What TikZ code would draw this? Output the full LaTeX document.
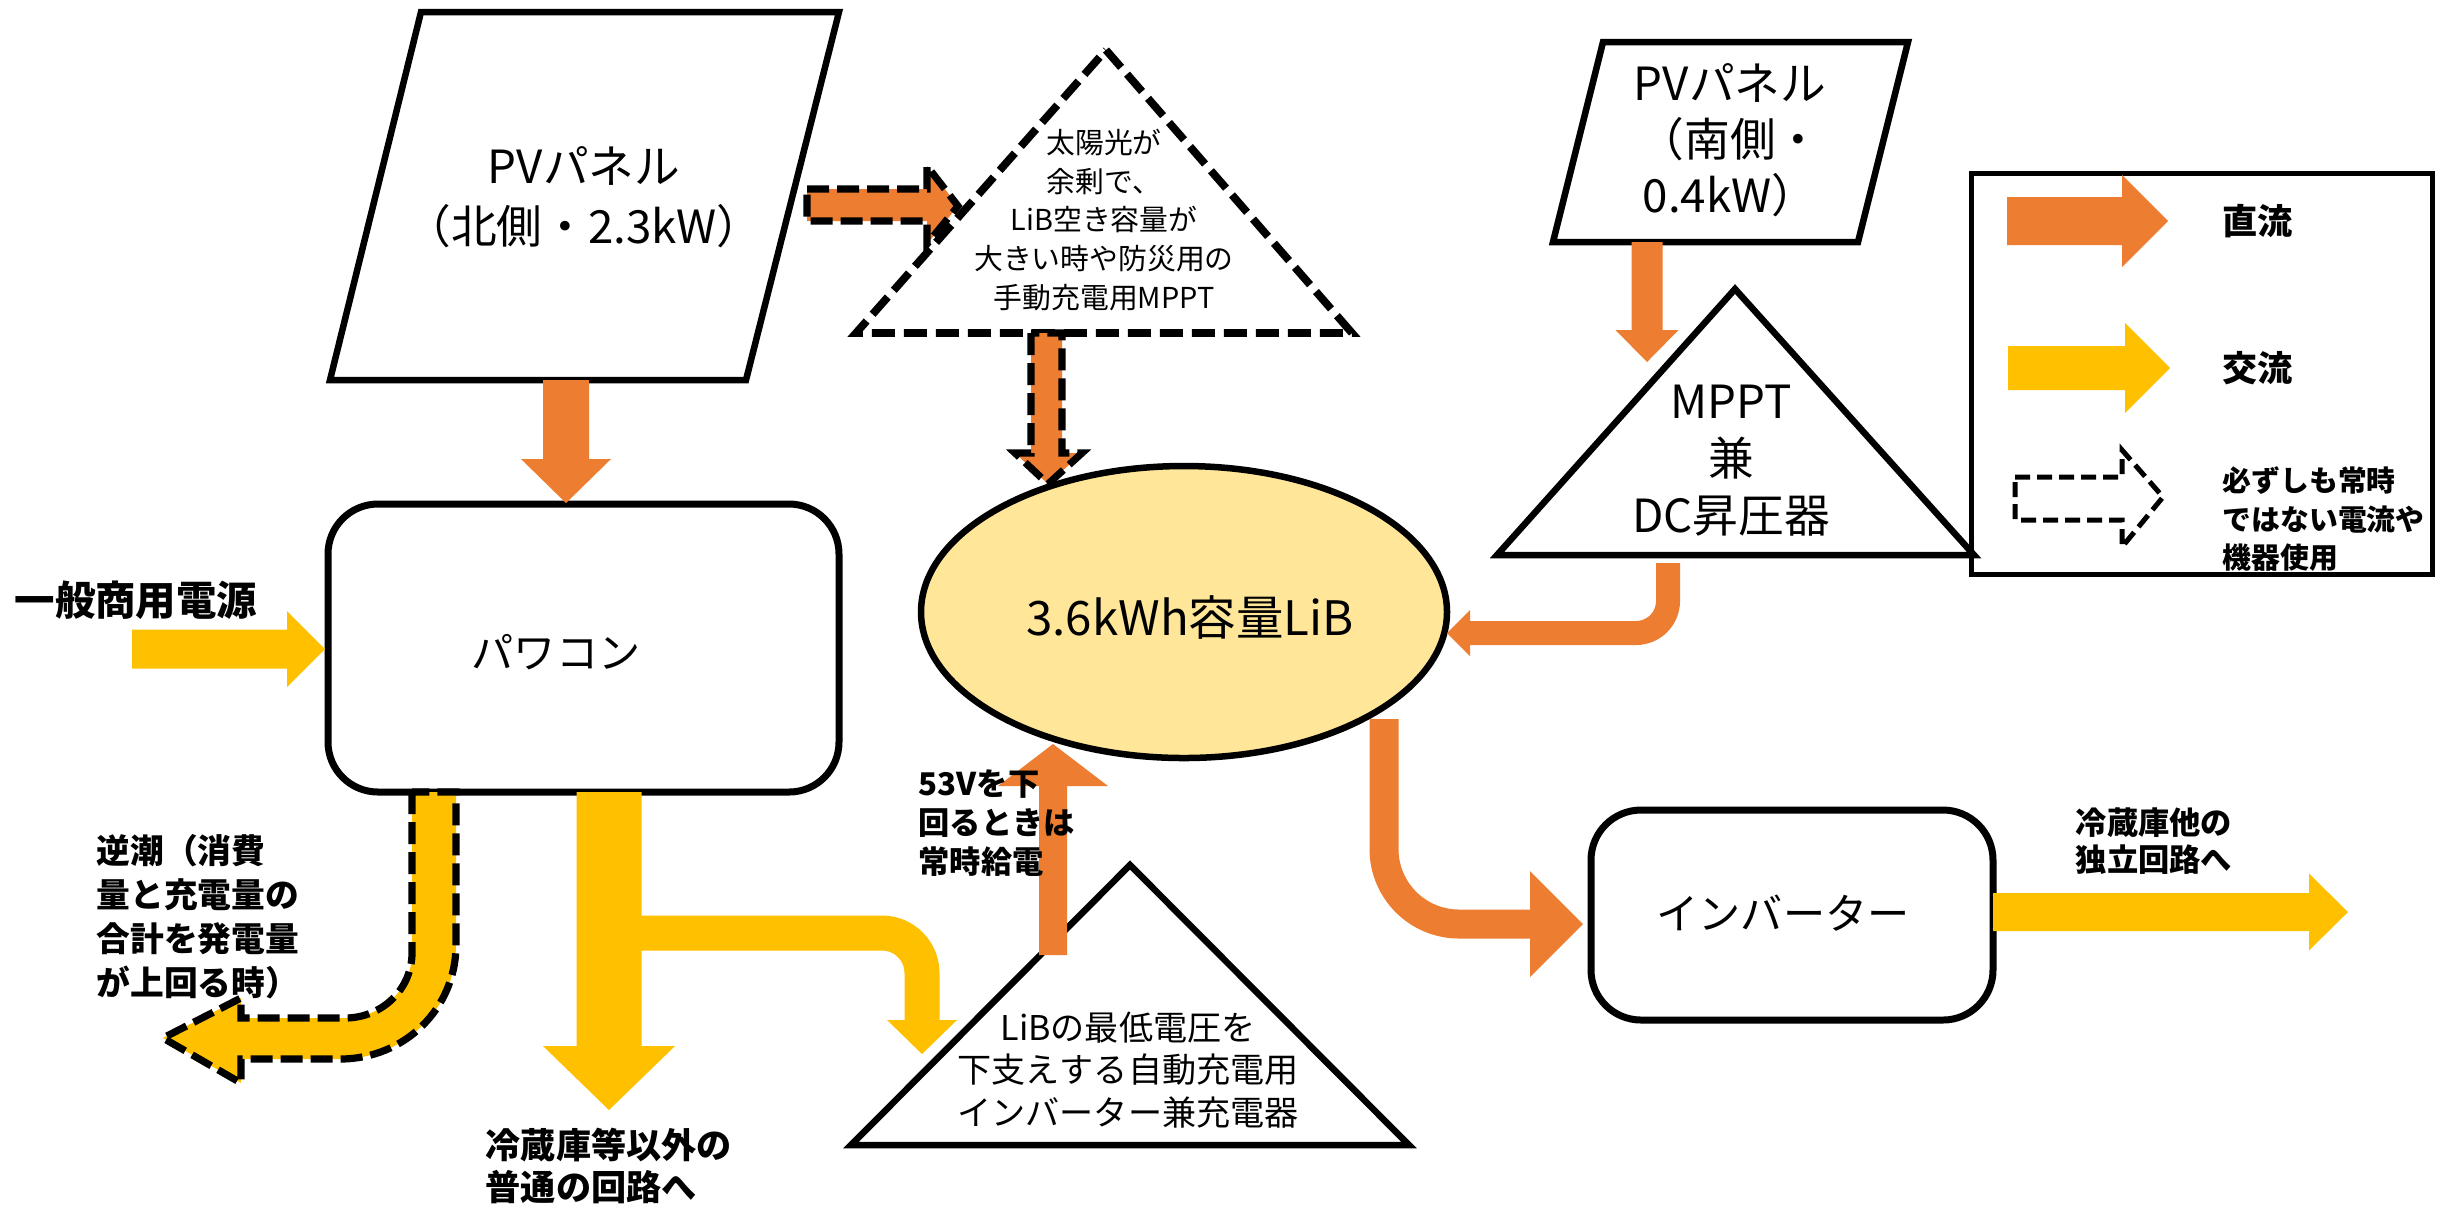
\documentclass[tikz,border=0pt]{standalone}
\usepackage{fontspec}
\setmainfont{Noto Sans CJK JP}
\usetikzlibrary{calc,shapes.geometric}
\definecolor{orC}{HTML}{ED7D31}
\definecolor{yeC}{HTML}{FFC000}
\definecolor{liC}{HTML}{FFE699}
\newcommand\fs[2]{\fontsize{#1}{#2}\selectfont}
% head of a block arrow: colour, base centre, tip, half width
\newcommand\bhead[4]{\fill[#1] (#3) -- ($(#2)!#4!90:(#3)$) -- ($(#2)!#4!-90:(#3)$) -- cycle;}
% straight block arrow: colour, from, to, shaft width, head half width, head length
\newcommand\barrow[6]{%
  \path ($(#3)!#6!(#2)$) coordinate (ba-base);
  \draw[draw=#1, line width=#4] (#2) -- ($(ba-base)!0.3!(#3)$);
  \bhead{#1}{ba-base}{#3}{#5}}
\tikzset{
  shp/.style={draw=black, line width=0.65mm, line join=miter},
  dshp/.style={draw=black, line width=0.78mm, dash pattern=on 2.3mm off 0.9mm},
  darrow/.style={draw=black, line width=0.72mm, dash pattern=on 2.2mm off 0.8mm},
  txt/.style={inner sep=0pt, align=center, text=black},
  lbl/.style={inner sep=0pt, align=left, anchor=west, text=black},
}
\begin{document}
\begin{tikzpicture}[x=0.1mm, y=-0.1mm]
\useasboundingbox (0,0) rectangle (2440,1207);
\fill[white] (0,0) rectangle (2440,1207);

% ---------- shapes ----------
% PV panel north
\draw[shp] (421,12) -- (839,12) -- (746,380) -- (330,380) -- cycle;
\node[txt, font=\fs{13pt}{17pt}] (pvn) at (584,197) {PVパネル\\（北側・2.3kW）};
% power conditioner
\node[draw, line width=0.7mm, rounded corners=5mm, minimum width=51.1mm, minimum height=28.8mm, inner sep=0pt] (pc) at (583.5,648) {};
\node[txt, font=\fs{12pt}{14pt}] (pct) at (556,652) {パワコン};
% dashed triangle (manual MPPT)
\draw[dshp] (1106,50) -- (1352,333) -- (856,333) -- cycle;
\node[txt, font=\fs{8.2pt}{11pt}] (mmppt) at (1104,220) {太陽光が\\余剰で、\\LiB空き容量が\\大きい時や防災用の\\手動充電用MPPT};
% LiB ellipse
\node[shp, fill=liC, ellipse, minimum width=52.6mm, minimum height=29.2mm, inner sep=0pt] (lib) at (1184,612) {};
\node[txt, font=\fs{13.5pt}{16pt}] (libt) at (1190,617) {3.6kWh容量LiB};
% PV panel south
\draw[shp] (1603,42) -- (1908,42) -- (1858,242) -- (1553,242) -- cycle;
\node[txt, font=\fs{13pt}{16pt}] (pvs) at (1730,140) {PVパネル\\（南側・\\0.4kW）};
% MPPT / DC booster
\draw[shp] (1735,289) -- (1974,555) -- (1497,555) -- cycle;
\node[txt, font=\fs{13pt}{16.2pt}] (mppt) at (1731,461) {MPPT\\兼\\DC昇圧器};
% bottom triangle (charger)
\draw[shp] (1130,865) -- (1409,1145) -- (851,1145) -- cycle;
\node[txt, font=\fs{9.7pt}{12.2pt}] (chg) at (1128,1070) {LiBの最低電圧を\\下支えする自動充電用\\インバーター兼充電器};
% inverter
\node[draw, line width=0.7mm, rounded corners=5mm, minimum width=40.2mm, minimum height=21mm, inner sep=0pt] (inv) at (1792,915) {};
\node[txt, font=\fs{12pt}{14pt}] (invt) at (1783,913) {インバーター};
% legend box
\draw[draw=black, line width=0.5mm] (1971,173) rectangle (2432,574);

% ---------- connectors ----------
% PV north -> power conditioner
\coordinate (a1s) at (566,380); \coordinate (a1e) at (566,503);
\barrow{orC}{a1s}{a1e}{4.6mm}{4.5mm}{4.4mm}
% grid -> power conditioner
\coordinate (a2s) at (132,649); \coordinate (a2e) at (325,649);
\barrow{yeC}{a2s}{a2e}{3.9mm}{3.8mm}{3.8mm}
% power conditioner -> other circuits
\coordinate (a3s) at (609,792); \coordinate (a3e) at (609,1110);
\barrow{yeC}{a3s}{a3e}{6.5mm}{6.6mm}{6.4mm}
% branch to charger
\draw[draw=yeC, line width=3.5mm, rounded corners=4mm] (640,933) -| (922,1030);
\coordinate (a4b) at (922,1020); \coordinate (a4e) at (922,1054);
\bhead{yeC}{a4b}{a4e}{3.5mm}
% reverse flow (dashed)
\draw[darrow, fill=yeC] (412,792) -- (412,953) .. controls (412,989) and (382,1018) .. (345,1018)
  -- (241,1018) -- (241,998) -- (163,1038) -- (241,1083) -- (241,1059) -- (340,1059)
  .. controls (405,1059) and (456,1008) .. (456,945) -- (456,792) -- cycle;
% PV north -> manual MPPT (dashed)
\draw[darrow, fill=orC] (807,189) -- (927,189) -- (927,166) -- (958,206) -- (927,244) -- (927,221) -- (807,221) -- cycle;
% manual MPPT -> LiB (dashed)
\draw[darrow, fill=orC] (1031,333) -- (1031,453) -- (1015,453) -- (1048,484) -- (1082,453) -- (1062,453) -- (1062,333) -- cycle;
% PV south -> MPPT
\coordinate (a5s) at (1647,242); \coordinate (a5e) at (1647,362);
\barrow{orC}{a5s}{a5e}{3.1mm}{3.15mm}{3.2mm}
% MPPT -> LiB
\draw[draw=orC, line width=2.4mm, rounded corners=3.2mm] (1668,563) |- (1463,633);
\coordinate (a6b) at (1470,633); \coordinate (a6e) at (1447,633);
\bhead{orC}{a6b}{a6e}{2.3mm}
% charger -> LiB
\coordinate (a7s) at (1053,955); \coordinate (a7e) at (1053,744);
\barrow{orC}{a7s}{a7e}{2.8mm}{5.5mm}{4.2mm}
% LiB -> inverter
\draw[draw=orC, line width=2.9mm, rounded corners=7.5mm] (1384,719) |- (1545,924);
\coordinate (a8b) at (1530,924); \coordinate (a8e) at (1583,924);
\bhead{orC}{a8b}{a8e}{5.3mm}
% inverter -> independent circuit
\coordinate (a9s) at (1993,912); \coordinate (a9e) at (2348,912);
\barrow{yeC}{a9s}{a9e}{3.8mm}{3.85mm}{3.9mm}

% legend arrows
\coordinate (l1s) at (2007,221); \coordinate (l1e) at (2168,221);
\barrow{orC}{l1s}{l1e}{4.8mm}{4.6mm}{4.6mm}
\coordinate (l2s) at (2008,368); \coordinate (l2e) at (2170,368);
\barrow{yeC}{l2s}{l2e}{4.4mm}{4.5mm}{4.5mm}
\draw[draw=black, line width=0.5mm, dash pattern=on 1.5mm off 0.7mm] (2015,477) -- (2122,477) -- (2122,450) -- (2163,497) -- (2122,547) -- (2122,520) -- (2015,520) -- cycle;

% ---------- labels ----------
\node[lbl, font=\bfseries\fs{11.5pt}{14pt}] (grid) at (14,600) {一般商用電源};
\node[lbl, font=\bfseries\fs{9.6pt}{12.5pt}] (rev) at (96,917) {逆潮（消費\\量と充電量の\\合計を発電量\\が上回る時）};
\node[lbl, font=\bfseries\fs{10pt}{12pt}] (oth) at (485,1166) {冷蔵庫等以外の\\普通の回路へ};
\node[lbl, font=\bfseries\fs{8.9pt}{11.1pt}] (v53) at (918,823) {53Vを下\\回るときは\\常時給電};
\node[lbl, font=\bfseries\fs{8.9pt}{10.5pt}] (ind) at (2075,841) {冷蔵庫他の\\独立回路へ};
\node[lbl, font=\bfseries\fs{10pt}{12pt}] (dc) at (2222,221) {直流};
\node[lbl, font=\bfseries\fs{10pt}{12pt}] (ac) at (2222,368) {交流};
\node[lbl, font=\bfseries\fs{8.2pt}{11pt}] (nc) at (2222,519) {必ずしも常時\\ではない電流や\\機器使用};
\end{tikzpicture}
\end{document}
